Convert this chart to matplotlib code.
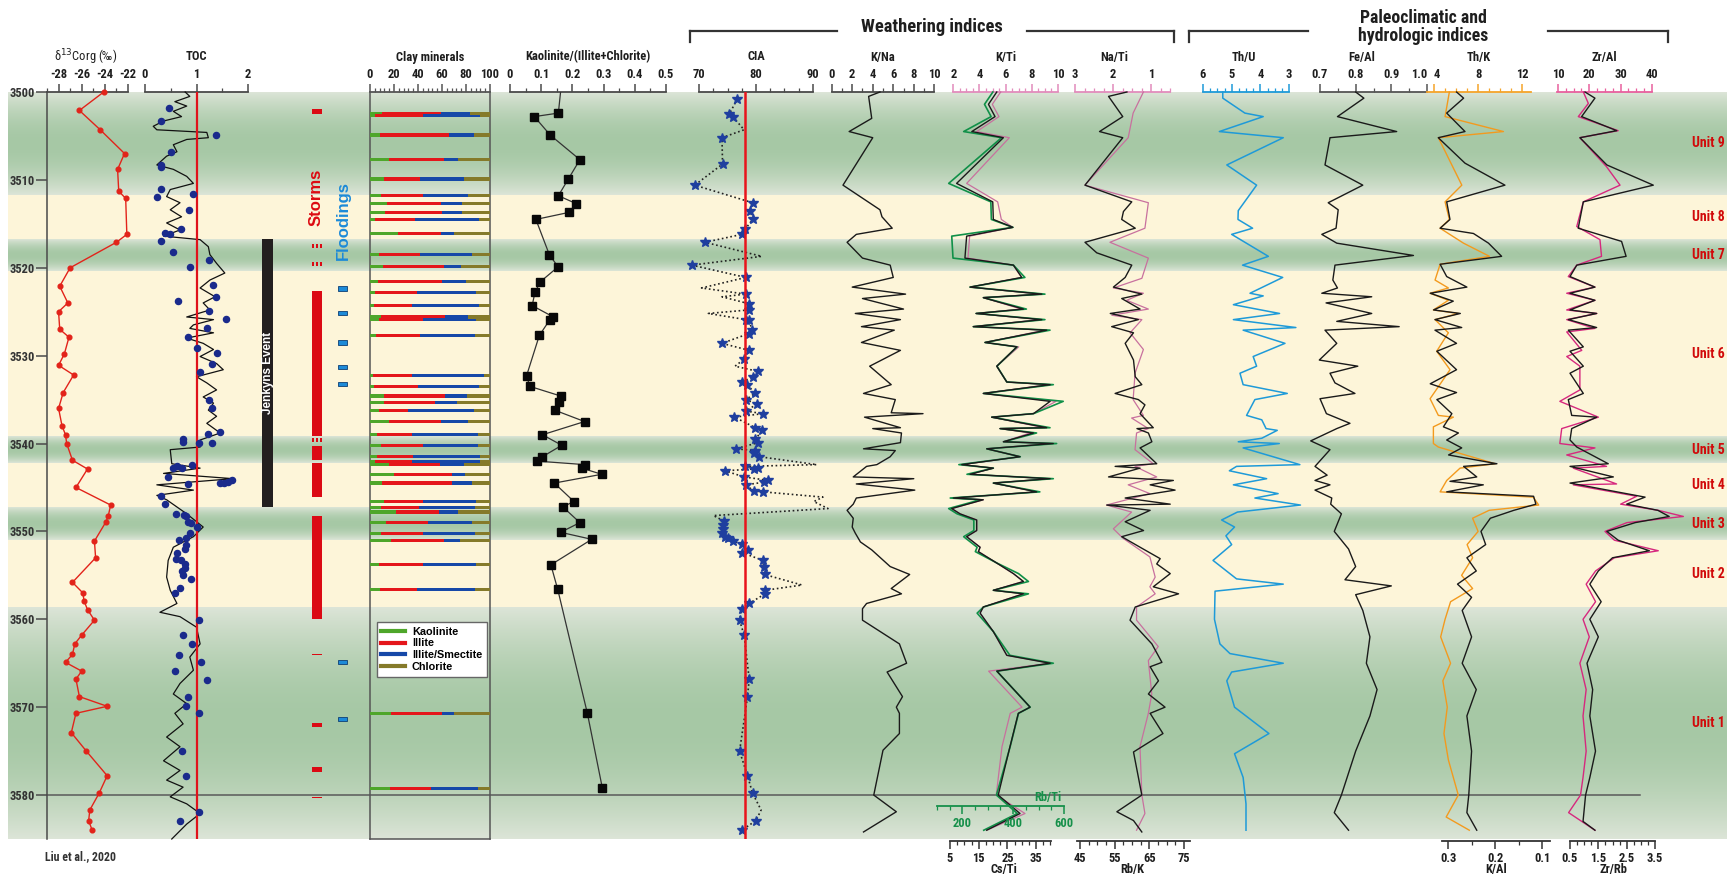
import numpy as np
import matplotlib
matplotlib.use('Agg')
import matplotlib.pyplot as plt
from matplotlib import font_manager as fm
from matplotlib.lines import Line2D
from matplotlib.colors import to_rgb

# ---------------- data ----------------
unit_bounds = [3500, 3511.7, 3516.8, 3520.4, 3539.2, 3542.2, 3547.3, 3551.0, 3558.7, 3585]
unit_names = [9, 8, 7, 6, 5, 4, 3, 2, 1]

d13c_depth = [3500.0, 3502.1, 3504.3, 3507.0, 3508.8, 3511.3, 3512.1, 3516.2, 3517.1, 3520.0, 3522.1, 3524.0,
              3525.0, 3527.0, 3527.9, 3529.8, 3531.1, 3532.2, 3534.2, 3536.0, 3538.0, 3539.0, 3540.0, 3541.9,
              3542.9, 3545.0, 3547.0, 3548.2, 3548.9, 3551.1, 3553.0, 3555.8, 3557.0, 3557.9, 3558.9, 3560.1,
              3561.8, 3562.8, 3564.0, 3564.9, 3565.9, 3566.8, 3568.8, 3569.9, 3570.7, 3572.9, 3575.0, 3577.8,
              3579.8, 3581.7, 3582.9, 3584.0]
d13c_value = [-24.1, -26.2, -24.4, -22.3, -22.9, -22.8, -22.2, -22.1, -23.0, -27.0, -27.9, -27.2,
              -28.0, -27.9, -27.1, -27.5, -28.0, -26.7, -27.6, -28.0, -27.7, -27.4, -27.3, -26.8,
              -25.5, -26.5, -23.5, -23.7, -23.9, -24.9, -24.8, -26.8, -25.9, -25.8, -25.5, -24.9,
              -26.0, -26.6, -26.8, -27.4, -26.0, -26.5, -26.2, -23.8, -26.5, -26.9, -25.6, -23.8,
              -24.5, -25.3, -25.4, -25.1]

toc_curve_depth = [3500.0, 3500.5, 3501.1, 3501.6, 3502.2, 3502.8, 3503.3, 3503.9, 3504.3, 3504.6, 3505.2, 3505.4,
                   3506.0, 3506.8, 3507.3, 3508.3, 3508.8, 3509.6, 3510.4, 3511.1, 3511.9, 3512.6, 3513.4, 3514.2,
                   3514.9, 3515.7, 3516.4, 3516.8, 3517.6, 3518.5, 3519.5, 3520.6, 3521.4, 3522.3, 3523.3, 3524.0,
                   3524.8, 3525.6, 3525.9, 3526.5, 3526.9, 3527.4, 3528.0, 3528.6, 3529.3, 3530.1, 3530.9, 3531.6,
                   3532.4, 3533.1, 3533.9, 3534.7, 3535.4, 3536.2, 3536.9, 3537.7, 3538.8, 3539.6, 3540.4, 3540.7,
                   3542.3, 3542.8, 3543.4, 3544.0, 3544.3, 3544.7, 3545.3, 3545.9, 3546.4, 3548.0, 3549.5, 3550.6,
                   3551.8, 3553.3, 3555.2, 3556.7, 3558.2, 3559.2, 3559.7, 3560.9, 3562.8, 3564.3, 3565.8, 3567.3,
                   3568.5, 3569.6, 3570.7, 3571.9, 3573.4, 3574.5, 3576.1, 3577.2, 3578.3, 3579.1, 3580.2, 3581.0,
                   3582.1, 3583.3, 3585.0]
toc_curve_value = [0.78, 0.87, 0.58, 0.81, 0.55, 0.71, 0.36, 0.16, 0.23, 1.20, 1.23, 0.81,
                   0.55, 0.62, 0.42, 0.23, 0.55, 0.81, 0.94, 0.49, 0.42, 0.68, 0.49, 0.71,
                   0.42, 0.68, 0.36, 1.07, 1.23, 1.26, 1.39, 1.55, 1.26, 1.07, 1.36, 1.13,
                   1.26, 0.81, 1.33, 0.94, 0.87, 1.33, 0.81, 1.13, 1.33, 1.07, 1.39, 1.52,
                   1.00, 1.20, 1.39, 1.13, 1.33, 1.23, 1.39, 1.20, 1.46, 1.07, 1.07, 0.49,
                   0.52, 1.07, 0.36, 1.71, 1.07, 0.23, 0.94, 0.23, 0.42, 0.81, 1.13, 0.94,
                   0.55, 0.45, 0.42, 0.49, 0.62, 0.29, 0.68, 1.00, 1.07, 0.87, 0.94, 0.68,
                   0.55, 0.81, 0.58, 0.74, 0.42, 0.68, 0.36, 0.68, 0.42, 0.74, 0.49, 0.81,
                   1.07, 0.81, 0.52]

toc_depth = [3501.8, 3503.3, 3504.9, 3506.8, 3508.3, 3508.5, 3511.0, 3511.9, 3511.6, 3513.4, 3515.6, 3516.0,
             3516.2, 3516.9, 3518.2, 3519.1, 3519.9, 3522.0, 3523.3, 3523.8, 3524.9, 3525.8, 3526.9, 3527.9,
             3529.1, 3529.7, 3530.9, 3531.9, 3535.0, 3536.0, 3538.9, 3538.7, 3539.5, 3539.8, 3539.9, 3539.9,
             3542.4, 3542.8, 3542.6, 3542.8, 3543.8, 3544.6, 3544.5, 3544.5, 3544.4, 3544.2, 3546.0, 3546.9,
             3548.0, 3548.1, 3548.2, 3548.9, 3549.0, 3549.5, 3550.2, 3550.7, 3551.0, 3551.6, 3552.0, 3552.4,
             3553.1, 3553.2, 3553.7, 3554.2, 3554.5, 3555.0, 3555.4, 3556.4, 3557.0, 3560.1, 3561.8, 3562.8,
             3564.1, 3564.9, 3565.9, 3566.9, 3568.8, 3569.9, 3570.7, 3575.0, 3577.8, 3581.9, 3582.9]
toc_value = [0.47, 0.32, 1.38, 0.50, 0.32, 0.31, 0.32, 0.23, 0.94, 0.86, 0.69, 0.38,
             0.49, 0.32, 0.54, 1.24, 0.88, 1.33, 1.38, 0.65, 1.25, 1.58, 1.21, 0.84,
             1.00, 1.40, 1.30, 1.07, 1.24, 1.31, 1.22, 1.46, 0.74, 0.74, 1.05, 1.30,
             0.91, 0.55, 0.63, 0.72, 0.44, 0.83, 1.46, 1.54, 1.61, 1.68, 0.32, 0.39,
             0.61, 0.76, 0.79, 0.84, 0.89, 1.00, 0.87, 0.80, 0.66, 0.80, 0.78, 0.62,
             0.61, 0.69, 0.77, 0.77, 0.71, 0.73, 0.89, 0.68, 0.58, 1.04, 0.74, 0.91,
             0.66, 1.08, 0.59, 1.21, 0.83, 0.79, 1.05, 0.71, 0.79, 1.04, 0.68]

storm_top = [3501.9, 3522.6, 3540.3, 3542.2, 3548.3, 3571.8, 3576.8]
storm_bot = [3502.5, 3539.1, 3541.9, 3546.1, 3560.0, 3572.3, 3577.4]
storm_thin = [3517.5, 3519.5, 3539.6]
storm_line = [3564.0, 3580.3]
flood_top = [3522.1, 3524.9, 3528.2, 3531.1, 3533.0, 3564.6, 3571.1]
flood_bot = [3522.6, 3525.4, 3528.8, 3531.5, 3533.4, 3565.1, 3571.6]
jenkyns_top, jenkyns_bot = 3516.7, 3547.2

clay_depth = [3502.4, 3502.7, 3504.9, 3507.7, 3509.9, 3511.8, 3512.7, 3513.7, 3514.5, 3516.1, 3518.5, 3519.9,
              3521.6, 3522.8, 3524.3, 3525.6, 3525.9, 3527.7, 3532.3, 3533.5, 3534.6, 3535.3, 3536.2, 3537.5,
              3539.0, 3540.2, 3541.5, 3542.0, 3542.4, 3543.5, 3544.5, 3546.6, 3547.3, 3547.8, 3549.0, 3550.2,
              3551.0, 3553.8, 3556.6, 3570.7, 3579.3]
kaolinite = [10.0, 4.0, 8.5, 15.6, 11.3, 9.3, 14.2, 12.7, 4.2, 23.5, 7.6, 10.8,
             7.0, 4.2, 3.7, 9.3, 7.6, 5.1, 2.8, 3.7, 11.3, 11.3, 7.9, 15.6,
             5.7, 9.3, 5.7, 4.2, 15.6, 19.8, 9.9, 11.3, 9.3, 22.0, 13.3, 9.3,
             17.8, 7.6, 8.5, 17.8, 16.4]
illite = [49.5, 40.0, 57.5, 46.2, 30.3, 34.7, 45.3, 47.1, 33.5, 35.5, 34.0, 51.0,
          53.0, 34.6, 31.1, 53.0, 36.4, 36.5, 32.0, 36.0, 51.0, 42.5, 24.1, 43.4,
          29.1, 35.2, 30.3, 30.6, 42.4, 48.2, 58.1, 32.7, 31.7, 35.2, 35.4, 35.2,
          44.0, 36.9, 30.3, 42.2, 34.6]
illite_smectite = [23.5, 47.5, 20.4, 11.2, 36.4, 37.6, 17.5, 16.7, 53.3, 11.0, 43.4, 14.2,
                   20.0, 49.9, 55.9, 19.3, 44.7, 46.2, 60.2, 51.0, 18.4, 18.4, 55.0, 22.3,
                   55.0, 45.3, 55.5, 56.7, 20.0, 11.3, 17.0, 44.7, 46.8, 15.8, 36.3, 43.3,
                   13.2, 44.2, 49.0, 10.0, 38.8]
chlorite = [17.0, 8.5, 13.6, 27.0, 22.0, 18.4, 23.0, 23.5, 9.0, 30.0, 15.0, 24.0,
            20.0, 11.3, 9.3, 18.4, 11.3, 12.2, 5.0, 9.3, 19.3, 27.8, 13.0, 18.7,
            10.2, 10.2, 8.5, 8.5, 22.0, 20.7, 15.0, 11.3, 12.2, 27.0, 15.0, 12.2,
            25.0, 11.3, 12.2, 30.0, 10.2]

kic_depth = [3499.0, 3502.4, 3502.8, 3504.9, 3507.7, 3509.9, 3511.8, 3512.7, 3513.7, 3514.5, 3518.5, 3519.9,
             3521.6, 3522.8, 3524.3, 3525.6, 3525.9, 3527.7, 3532.3, 3533.5, 3534.6, 3535.3, 3536.2, 3537.5,
             3539.0, 3540.2, 3541.5, 3542.0, 3542.4, 3542.8, 3543.5, 3544.5, 3546.6, 3547.2, 3549.0, 3550.1,
             3550.9, 3553.8, 3556.6, 3570.7, 3579.2]
kic_value = [0.165, 0.155, 0.078, 0.129, 0.224, 0.187, 0.155, 0.212, 0.189, 0.083, 0.126, 0.154,
             0.097, 0.080, 0.071, 0.139, 0.128, 0.094, 0.053, 0.064, 0.163, 0.157, 0.143, 0.239,
             0.104, 0.166, 0.104, 0.086, 0.240, 0.230, 0.294, 0.142, 0.205, 0.169, 0.224, 0.162,
             0.262, 0.131, 0.153, 0.248, 0.296]

cia_depth = [3500.8, 3502.5, 3502.8, 3504.3, 3505.2, 3508.2, 3510.6, 3512.6, 3513.5, 3514.5, 3515.6, 3516.2,
             3517.1, 3518.7, 3519.7, 3521.1, 3522.3, 3523.0, 3523.3, 3524.1, 3524.8, 3525.2, 3525.9, 3526.0,
             3527.1, 3527.5, 3528.6, 3529.4, 3530.4, 3531.2, 3531.8, 3532.4, 3533.0, 3533.3, 3534.3, 3535.0,
             3535.5, 3536.3, 3536.6, 3537.0, 3538.2, 3538.5, 3539.5, 3539.9, 3540.6, 3540.8, 3541.1, 3541.5,
             3542.4, 3542.6, 3542.8, 3542.9, 3543.1, 3543.8, 3544.2, 3544.4, 3544.7, 3545.4, 3545.5, 3546.1,
             3546.6, 3547.4, 3548.2, 3548.8, 3549.3, 3549.7, 3550.2, 3550.6, 3550.8, 3551.1, 3551.4, 3552.1,
             3552.4, 3553.3, 3554.1, 3554.9, 3556.1, 3556.7, 3557.1, 3558.2, 3558.8, 3560.1, 3561.8, 3566.8,
             3568.8, 3571.5, 3575.0, 3577.8, 3579.8, 3581.7, 3582.9, 3584.0]
cia_value = [76.7, 75.3, 75.9, 77.9, 74.0, 74.1, 69.2, 79.4, 79.0, 79.4, 78.1, 77.5,
             71.0, 81.0, 68.7, 78.2, 70.4, 78.2, 74.0, 78.8, 78.7, 71.6, 78.2, 78.8,
             79.3, 78.7, 74.0, 78.8, 77.9, 76.3, 80.4, 79.5, 77.5, 78.5, 79.8, 78.2,
             80.2, 78.2, 81.2, 76.2, 79.9, 81.1, 79.9, 80.4, 76.4, 79.9, 79.6, 80.6,
             90.7, 78.1, 80.4, 79.6, 74.5, 77.9, 82.2, 81.4, 78.2, 79.6, 81.3, 91.8,
             90.2, 92.7, 72.5, 74.3, 74.2, 74.1, 74.0, 74.5, 75.1, 75.9, 77.5, 78.6,
             77.5, 81.2, 81.4, 81.5, 88.1, 81.6, 81.6, 78.8, 77.5, 77.1, 77.9, 78.8,
             78.5, 77.9, 77.1, 78.5, 79.4, 80.9, 80.0, 77.5]
cia_sampled = [1, 1, 1, 0, 1, 1, 1, 1, 1, 1, 1, 1,
               1, 0, 1, 1, 0, 1, 0, 1, 1, 0, 1, 1,
               1, 1, 1, 1, 1, 0, 1, 1, 1, 1, 1, 1,
               1, 1, 1, 1, 1, 1, 1, 1, 1, 1, 1, 1,
               0, 1, 1, 1, 1, 1, 1, 1, 1, 1, 1, 0,
               0, 0, 0, 1, 1, 1, 1, 1, 1, 1, 1, 1,
               1, 1, 1, 1, 0, 1, 1, 1, 1, 1, 1, 1,
               1, 0, 1, 1, 1, 0, 1, 1]

kna_depth = [3500.0, 3500.5, 3503.0, 3504.5, 3505.2, 3510.6, 3513.4, 3514.2, 3515.5, 3516.2, 3517.1, 3518.9,
             3519.7, 3521.1, 3522.2, 3523.0, 3523.5, 3524.7, 3525.2, 3525.9, 3526.7, 3527.1, 3528.5, 3529.4,
             3531.2, 3532.4, 3533.3, 3534.3, 3535.0, 3536.5, 3536.6, 3537.0, 3538.2, 3538.3, 3538.8, 3539.9,
             3540.6, 3540.8, 3541.5, 3542.4, 3542.6, 3543.8, 3544.0, 3544.6, 3545.3, 3546.2, 3546.9, 3547.6,
             3548.5, 3549.5, 3550.2, 3551.2, 3552.1, 3554.0, 3554.9, 3556.5, 3557.1, 3558.2, 3558.8, 3560.1,
             3562.8, 3565.0, 3566.0, 3568.8, 3570.0, 3570.7, 3573.0, 3574.9, 3580.0, 3581.9, 3584.2]
kna_value = [4.7, 3.6, 3.9, 1.7, 4.0, 1.1, 4.7, 4.9, 5.9, 2.4, 1.5, 3.0,
             5.7, 6.0, 2.0, 7.2, 3.0, 7.0, 2.3, 6.7, 2.9, 6.1, 2.9, 6.7,
             3.7, 4.9, 5.8, 3.1, 6.2, 5.8, 8.9, 3.2, 6.7, 4.0, 6.8, 6.7,
             3.1, 6.2, 5.7, 4.4, 3.4, 2.1, 8.0, 2.4, 8.1, 2.4, 2.1, 1.5,
             2.1, 2.0, 2.3, 2.8, 3.9, 5.7, 7.6, 5.8, 6.8, 3.4, 3.0, 3.0,
             6.6, 7.3, 5.4, 6.9, 6.3, 6.6, 6.6, 5.0, 4.1, 6.3, 3.1]

ti_depth = [3500.0, 3501.4, 3502.8, 3504.5, 3505.2, 3510.4, 3512.5, 3514.5, 3515.4, 3516.4, 3518.9, 3519.7,
            3521.1, 3522.2, 3523.0, 3523.4, 3524.7, 3525.2, 3525.9, 3526.7, 3527.1, 3528.5, 3529.0, 3531.2,
            3533.0, 3533.3, 3534.3, 3535.2, 3536.6, 3537.0, 3538.2, 3538.3, 3538.8, 3539.8, 3540.0, 3540.6,
            3541.5, 3542.4, 3542.8, 3543.5, 3544.0, 3544.5, 3545.5, 3546.2, 3546.4, 3547.4, 3548.0, 3548.7,
            3549.9, 3550.6, 3551.8, 3552.3, 3553.6, 3554.8, 3555.7, 3556.7, 3557.1, 3558.6, 3559.3, 3561.4,
            3564.1, 3565.0, 3565.9, 3570.0, 3570.7, 3574.5, 3580.0, 3582.1, 3584.0]
kti_value = [5.62, 4.98, 5.49, 3.79, 6.28, 3.02, 5.39, 5.67, 6.54, 3.25, 3.12, 6.58,
             7.23, 3.28, 8.60, 4.29, 7.19, 3.73, 8.60, 3.53, 8.98, 4.42, 7.00, 5.32,
             6.08, 9.23, 4.29, 9.85, 8.11, 4.93, 8.98, 5.57, 7.86, 5.82, 9.39, 4.55,
             7.10, 2.64, 5.06, 3.28, 9.23, 5.06, 8.37, 2.00, 4.29, 1.88, 2.51, 3.79,
             3.79, 3.02, 4.04, 3.91, 5.32, 6.58, 7.35, 5.06, 7.35, 4.29, 4.04, 5.06,
             6.08, 9.39, 4.70, 7.25, 6.35, 5.72, 5.28, 7.48, 4.55]
csti_value = [21.3, 18.4, 20.7, 12.6, 23.6, 7.3, 19.9, 20.1, 26.9, 10.8, 10.2, 27.1,
              30.0, 12.0, 37.0, 16.6, 30.6, 14.1, 37.0, 13.1, 38.7, 17.2, 28.3, 21.3,
              24.8, 39.9, 16.6, 39.9, 34.1, 19.5, 38.7, 22.4, 34.1, 23.6, 41.0, 17.8,
              29.4, 9.1, 20.1, 12.0, 39.9, 20.1, 35.2, 6.2, 16.6, 5.6, 8.5, 14.3,
              14.3, 10.8, 15.5, 14.9, 21.3, 27.1, 30.6, 20.1, 30.6, 16.6, 15.5, 20.1,
              24.8, 39.9, 21.3, 32.9, 28.8, 25.9, 21.8, 29.4, 17.8]
rbti_value = [320, 287, 313, 205, 354, 146, 312, 314, 399, 158, 163, 401,
              446, 230, 525, 283, 452, 254, 525, 243, 545, 289, 415, 336,
              375, 558, 283, 597, 480, 316, 545, 349, 492, 362, 571, 296,
              428, 186, 322, 218, 558, 322, 505, 152, 271, 146, 179, 245,
              245, 205, 258, 251, 336, 421, 460, 322, 460, 283, 258, 322,
              387, 558, 336, 467, 421, 388, 334, 416, 284]

rbk_depth = [3500.0, 3500.5, 3502.8, 3504.5, 3505.2, 3510.6, 3512.5, 3513.6, 3514.5, 3515.5, 3517.1, 3518.3,
             3519.7, 3521.1, 3522.2, 3523.0, 3523.5, 3524.7, 3525.2, 3525.9, 3526.7, 3527.4, 3528.6, 3530.5,
             3532.4, 3533.3, 3534.3, 3535.0, 3535.6, 3536.6, 3538.2, 3538.3, 3538.8, 3539.8, 3540.5, 3542.3,
             3542.6, 3542.8, 3543.8, 3544.2, 3544.7, 3545.3, 3546.2, 3546.9, 3547.0, 3547.6, 3548.9, 3549.9,
             3550.6, 3551.8, 3553.1, 3553.7, 3554.8, 3556.3, 3557.1, 3558.6, 3560.1, 3562.8, 3564.9, 3565.4,
             3567.0, 3568.5, 3570.0, 3570.7, 3573.0, 3575.1, 3580.0, 3581.9, 3582.9, 3584.2]
rbk_value = [58.5, 53.2, 57.3, 50.6, 57.3, 46.4, 59.9, 57.5, 57.0, 60.9, 46.4, 49.8,
             59.9, 58.0, 54.6, 62.8, 57.0, 62.3, 53.7, 61.8, 54.1, 60.4, 58.0, 60.4,
             60.9, 62.8, 55.1, 61.8, 63.7, 62.3, 66.1, 61.4, 64.7, 65.7, 62.3, 67.1,
             55.1, 62.3, 53.2, 71.9, 65.2, 72.4, 58.0, 71.0, 52.7, 65.2, 58.0, 63.3,
             57.0, 62.3, 68.1, 67.1, 71.0, 66.1, 73.4, 60.9, 59.4, 65.7, 68.6, 65.2,
             67.6, 64.7, 69.5, 65.2, 68.9, 60.4, 62.8, 55.6, 60.4, 62.8]

nati_depth = [3500.0, 3502.4, 3505.2, 3510.6, 3512.6, 3515.5, 3517.1, 3518.9, 3521.2, 3522.3, 3522.9, 3523.7,
              3524.7, 3525.4, 3525.9, 3527.4, 3529.3, 3532.0, 3535.0, 3536.8, 3537.1, 3538.3, 3538.8, 3540.7,
              3542.3, 3542.6, 3543.8, 3544.7, 3545.7, 3547.0, 3547.8, 3549.7, 3550.8, 3552.9, 3555.2, 3556.3,
              3557.1, 3558.6, 3560.1, 3563.1, 3564.7, 3568.5, 3570.7, 3574.5, 3580.0, 3582.1, 3584.0]
nati_value = [1.20, 1.47, 1.60, 2.74, 1.07, 1.16, 2.08, 1.07, 1.24, 1.99, 1.20, 1.64,
              1.07, 2.03, 1.24, 1.55, 1.20, 1.42, 1.47, 1.20, 1.51, 1.07, 1.38, 1.42,
              0.94, 1.42, 0.85, 1.60, 1.03, 2.17, 1.51, 1.99, 1.73, 1.03, 0.89, 1.03,
              0.89, 1.38, 1.38, 0.81, 1.07, 0.98, 1.07, 1.29, 1.24, 1.16, 1.38]

thu_depth = [3500.0, 3500.7, 3502.4, 3502.8, 3504.5, 3505.2, 3508.3, 3510.6, 3513.5, 3514.5, 3515.5, 3516.2,
             3518.7, 3519.7, 3521.1, 3522.9, 3523.2, 3524.2, 3525.2, 3525.9, 3526.8, 3527.1, 3528.6, 3530.1,
             3531.2, 3532.0, 3533.3, 3534.3, 3535.0, 3536.8, 3537.3, 3538.3, 3538.5, 3539.4, 3539.8, 3540.0,
             3540.5, 3542.4, 3542.6, 3543.1, 3544.0, 3544.7, 3545.7, 3546.2, 3547.0, 3547.8, 3548.7, 3549.5,
             3550.5, 3551.5, 3553.3, 3555.4, 3556.0, 3556.8, 3560.0, 3562.8, 3563.9, 3565.0, 3566.0, 3567.0,
             3570.0, 3573.0, 3575.3, 3578.0, 3581.0, 3584.0]
thu_value = [5.31, 5.31, 4.54, 3.90, 5.43, 3.20, 5.17, 4.13, 4.77, 4.78, 4.27, 5.00,
             3.72, 4.62, 3.22, 4.36, 3.90, 4.94, 3.33, 4.94, 2.76, 4.60, 3.14, 4.25,
             4.13, 4.71, 4.60, 3.06, 4.19, 4.48, 3.95, 3.80, 3.41, 3.95, 4.77, 3.34,
             4.60, 2.62, 4.83, 5.08, 3.78, 4.94, 3.38, 4.19, 2.60, 4.80, 5.35, 4.90,
             5.20, 5.00, 5.65, 4.83, 3.20, 5.58, 5.60, 5.41, 5.06, 3.20, 5.00, 5.17,
             4.90, 3.70, 4.90, 4.60, 4.50, 4.50]

feal_depth = [3500.0, 3500.7, 3502.8, 3504.5, 3505.2, 3508.3, 3510.6, 3512.6, 3513.4, 3515.5, 3516.2, 3517.2,
              3518.6, 3519.7, 3521.4, 3522.3, 3522.9, 3523.3, 3524.0, 3525.2, 3526.1, 3526.7, 3527.1, 3528.6,
              3530.5, 3531.2, 3532.0, 3533.1, 3534.3, 3534.9, 3536.6, 3537.7, 3538.3, 3539.7, 3540.7, 3542.6,
              3543.6, 3544.2, 3544.7, 3545.3, 3546.2, 3546.9, 3548.0, 3550.0, 3552.0, 3554.0, 3555.5, 3556.2,
              3557.2, 3559.0, 3562.0, 3565.0, 3568.0, 3571.0, 3575.0, 3580.0, 3582.0, 3584.0]
feal_value = [0.800, 0.823, 0.749, 0.915, 0.728, 0.714, 0.820, 0.723, 0.751, 0.745, 0.705, 0.747,
              0.962, 0.742, 0.736, 0.749, 0.705, 0.845, 0.717, 0.845, 0.747, 0.922, 0.714, 0.747,
              0.698, 0.806, 0.728, 0.742, 0.798, 0.700, 0.718, 0.784, 0.747, 0.674, 0.728, 0.686,
              0.720, 0.686, 0.728, 0.686, 0.733, 0.730, 0.760, 0.740, 0.780, 0.800, 0.770, 0.900,
              0.800, 0.820, 0.840, 0.830, 0.860, 0.840, 0.800, 0.760, 0.740, 0.780]

thk_depth = [3500.0, 3502.8, 3504.5, 3505.2, 3510.6, 3512.5, 3514.5, 3515.5, 3517.2, 3518.7, 3519.6, 3521.4,
             3522.3, 3522.9, 3523.7, 3524.8, 3525.2, 3525.9, 3527.4, 3529.5, 3531.6, 3534.9, 3536.8, 3537.0,
             3538.1, 3540.0, 3540.4, 3542.3, 3542.8, 3544.2, 3545.5, 3546.1, 3547.0, 3547.6, 3548.5, 3550.0,
             3551.5, 3553.0, 3555.0, 3556.5, 3558.0, 3560.0, 3562.0, 3565.0, 3567.0, 3570.0, 3573.0, 3576.0,
             3580.0, 3582.5, 3584.0]
thk_value = [5.39, 5.00, 10.3, 4.39, 6.52, 5.00, 5.39, 4.55, 6.67, 9.03, 4.55, 4.09,
             5.30, 3.64, 5.30, 3.94, 6.21, 4.09, 5.30, 4.24, 5.45, 3.64, 4.39, 5.75,
             3.94, 3.94, 4.39, 9.55, 6.36, 5.15, 4.55, 13.0, 13.5, 9.0, 7.5, 8.0,
             7.0, 7.5, 6.5, 7.5, 5.5, 5.0, 4.6, 5.5, 4.8, 5.2, 4.9, 5.3,
             6.2, 5.1, 7.2]

kal_depth = [3500.0, 3500.7, 3502.4, 3504.5, 3505.2, 3508.1, 3510.6, 3512.5, 3514.5, 3515.5, 3516.1, 3517.2,
             3518.7, 3519.6, 3521.0, 3522.2, 3522.9, 3523.8, 3524.8, 3525.2, 3525.9, 3526.8, 3527.1, 3528.6,
             3529.5, 3531.6, 3533.2, 3534.2, 3535.0, 3536.6, 3538.1, 3538.8, 3539.6, 3540.5, 3541.3, 3542.3,
             3542.6, 3543.8, 3544.3, 3544.7, 3545.5, 3546.0, 3546.9, 3547.6, 3548.5, 3550.0, 3551.5, 3553.0,
             3554.5, 3556.0, 3557.5, 3559.0, 3562.0, 3565.0, 3568.0, 3571.0, 3575.0, 3580.0, 3582.0, 3584.0]
kal_value = [0.282, 0.267, 0.303, 0.264, 0.321, 0.264, 0.179, 0.303, 0.296, 0.317, 0.246, 0.214,
             0.186, 0.317, 0.303, 0.260, 0.338, 0.289, 0.331, 0.274, 0.328, 0.271, 0.328, 0.282,
             0.324, 0.282, 0.338, 0.282, 0.324, 0.292, 0.310, 0.278, 0.303, 0.271, 0.299, 0.196,
             0.267, 0.239, 0.296, 0.225, 0.303, 0.118, 0.113, 0.160, 0.210, 0.230, 0.220, 0.260,
             0.240, 0.280, 0.250, 0.270, 0.250, 0.270, 0.240, 0.260, 0.250, 0.256, 0.260, 0.239]

zral_depth = [3500.0, 3501.3, 3502.8, 3504.4, 3505.2, 3508.5, 3510.6, 3512.5, 3515.3, 3516.8, 3518.7, 3519.7,
              3521.0, 3522.2, 3522.9, 3523.7, 3524.8, 3525.2, 3525.9, 3526.9, 3527.3, 3529.4, 3530.1, 3531.2,
              3533.9, 3535.2, 3537.0, 3538.3, 3540.0, 3540.5, 3541.3, 3542.6, 3542.8, 3544.6, 3544.7, 3546.0,
              3546.9, 3547.6, 3548.3, 3549.0, 3550.0, 3551.0, 3552.2, 3553.0, 3554.5, 3556.0, 3558.0, 3560.0,
              3562.0, 3565.0, 3568.0, 3571.0, 3575.0, 3578.0, 3580.0, 3582.0, 3584.0]
zral_value = [18.1, 19.7, 16.5, 29.2, 17.0, 25.5, 29.8, 18.1, 16.0, 23.4, 23.9, 16.0,
              13.3, 21.8, 12.8, 21.8, 12.8, 22.4, 12.8, 21.8, 12.8, 17.6, 12.8, 17.0,
              17.0, 10.6, 22.9, 11.2, 10.6, 21.8, 12.8, 25.5, 14.9, 28.7, 14.9, 35.1,
              30.0, 42.0, 50.0, 32.0, 25.0, 28.0, 42.0, 28.0, 22.0, 19.0, 22.0, 18.0,
              20.0, 17.0, 19.0, 18.0, 19.0, 18.0, 17.2, 13.4, 21.8]

zrrb_depth = [3500.0, 3500.7, 3502.8, 3504.4, 3505.2, 3508.3, 3510.6, 3512.5, 3514.5, 3515.5, 3517.0, 3518.7,
              3519.7, 3521.0, 3522.2, 3522.9, 3523.7, 3524.8, 3525.2, 3525.9, 3526.8, 3527.1, 3529.0, 3529.5,
              3531.2, 3532.0, 3534.3, 3535.0, 3536.8, 3537.0, 3538.3, 3539.6, 3540.4, 3542.3, 3542.6, 3543.8,
              3544.5, 3546.1, 3546.9, 3547.6, 3548.3, 3549.0, 3550.0, 3551.0, 3552.2, 3553.0, 3554.5, 3556.0,
              3558.0, 3560.0, 3562.0, 3565.0, 3568.0, 3571.0, 3575.0, 3578.0, 3580.0, 3583.0, 3584.0]
zrrb_value = [1.03, 1.38, 0.91, 2.15, 0.85, 1.80, 3.44, 0.97, 0.85, 0.79, 2.32, 2.48,
              0.74, 0.50, 1.38, 0.50, 1.38, 0.50, 1.44, 0.44, 1.44, 0.44, 0.97, 0.50,
              0.97, 0.50, 0.97, 0.44, 0.56, 1.44, 0.56, 0.50, 0.74, 1.85, 0.50, 2.03,
              0.50, 3.15, 2.50, 3.60, 4.00, 2.80, 1.80, 2.20, 3.30, 2.00, 1.50, 1.20,
              1.60, 1.20, 1.50, 1.10, 1.30, 1.20, 1.40, 1.20, 1.05, 0.96, 1.38]

# ---------------- fonts ----------------
names = {f.name for f in fm.fontManager.ttflist}
if 'Liberation Sans Narrow' in names:
    NARROW, NS = 'Liberation Sans Narrow', 1.0
elif 'Roboto Condensed' in names:
    NARROW, NS = 'Roboto Condensed', 0.95
else:
    NARROW, NS = 'Liberation Sans', 0.82
WIDE = 'Liberation Sans'
plt.rcParams['font.family'] = [NARROW, 'DejaVu Sans']

W, H = 1727, 876
TOP, BOT = 3500, 3585
Y0, Y1 = 92, 839
TXT = '#1e1e1e'

fig = plt.figure(figsize=(W / 100, H / 100), dpi=100)
fig.patch.set_facecolor('white')


def rect(x0, x1, y0=Y0, y1=Y1):
    return [x0 / W, 1 - y1 / H, (x1 - x0) / W, (y1 - y0) / H]


ov = fig.add_axes([0, 0, 1, 1], zorder=50)
ov.set_xlim(0, W)
ov.set_ylim(H, 0)
ov.axis('off')
ov.patch.set_visible(False)

# ---------------- background bands ----------------
bg = fig.add_axes(rect(8, W), zorder=0)
bg.set_xlim(8, W)
bg.set_ylim(BOT, TOP)
bg.axis('off')
edge = np.array(to_rgb('#dde5d8'))
centre = np.array(to_rgb('#a6c8a5'))
yellow = '#fdf5d9'
for i, n in enumerate(unit_names):
    d0, d1 = unit_bounds[i], unit_bounds[i + 1]
    if n % 2 == 1:
        t = np.linspace(0, 1, 300)
        w = np.sin(np.pi * t) ** 0.9
        img = edge[None, :] * (1 - w[:, None]) + centre[None, :] * w[:, None]
        bg.imshow(img[:, None, :], extent=[8, W, d1, d0], aspect='auto',
                  interpolation='bilinear', origin='upper', zorder=0)
    else:
        bg.axhspan(d0, d1, color=yellow, zorder=0, lw=0)
    bg.text(1725, (d0 + d1) / 2, f'Unit {n}', color='#d10a0a', fontweight='bold',
            fontsize=10.5 * NS, ha='right', va='center', zorder=3)
bg.set_xlim(8, W)
bg.set_ylim(BOT, TOP)
bg.plot([47, 1640], [3580, 3580], color='#5a5a5a', lw=1.1, zorder=2)


# ---------------- helpers ----------------
def panel(x0, x1, xlim, major, labels, minor, color='#4a4a4a', title=None, tcx=None,
          tweight='bold'):
    ax = fig.add_axes(rect(x0, x1), zorder=5)
    ax.set_xlim(*xlim)
    ax.set_ylim(BOT, TOP)
    ax.patch.set_visible(False)
    for s in ['left', 'right', 'bottom']:
        ax.spines[s].set_visible(False)
    ax.spines['top'].set_color(color)
    ax.spines['top'].set_linewidth(1.3)
    ax.xaxis.tick_top()
    ax.set_xticks(major)
    ax.set_xticklabels(labels)
    ax.set_xticks(minor, minor=True)
    ax.tick_params(axis='x', which='major', direction='out', length=6, width=1.1, color=color,
                   labelsize=9.5 * NS, pad=2, labelcolor=TXT)
    ax.tick_params(axis='x', which='minor', direction='out', length=3.2, width=0.9, color=color)
    ax.set_yticks([])
    for lab in ax.get_xticklabels():
        lab.set_fontweight('bold')
    if title:
        ov.text(tcx if tcx else (x0 + x1) / 2, 57, title, ha='center', va='center',
                fontsize=9.5 * NS, fontweight=tweight, color=TXT)
    return ax


def dax(x0, x1, xlim):
    ax = fig.add_axes(rect(x0, x1), zorder=6)
    ax.set_xlim(*xlim)
    ax.set_ylim(BOT, TOP)
    ax.axis('off')
    ax.patch.set_visible(False)
    return ax


def baxis(x0, x1, y, xlim, major, labels, minor, color='#333333', lcolor=TXT, name=None, nx=None,
          ny=870):
    ax = fig.add_axes([x0 / W, 1 - y / H, (x1 - x0) / W, 1e-4], zorder=7)
    ax.set_xlim(*xlim)
    ax.patch.set_visible(False)
    for s in ['left', 'right', 'top']:
        ax.spines[s].set_visible(False)
    ax.spines['bottom'].set_color(color)
    ax.spines['bottom'].set_linewidth(1.3)
    ax.set_xticks(major)
    ax.set_xticklabels(labels)
    ax.set_xticks(minor, minor=True)
    ax.tick_params(axis='x', which='major', direction='out', length=6, width=1.1, color=color,
                   labelsize=9.5 * NS, pad=2, labelcolor=lcolor)
    ax.tick_params(axis='x', which='minor', direction='out', length=3.2, width=0.9, color=color)
    ax.set_yticks([])
    for lab in ax.get_xticklabels():
        lab.set_fontweight('bold')
    if name:
        ov.text(nx if nx else (x0 + x1) / 2, ny, name, ha='center', va='center',
                fontsize=9.5 * NS, fontweight='bold', color=lcolor)
    return ax


# ---------------- delta13C ----------------
ax = panel(47, 128, (-29, -22), [-28, -26, -24, -22], ['-28', '-26', '-24', '-22'],
           np.arange(-29, -21.5, 1), title='δ$^{13}$Corg (‰)', tcx=86, tweight='normal')
ax.spines['left'].set_visible(True)
ax.spines['left'].set_color('#4a4a4a')
ax.spines['left'].set_linewidth(1.1)
ax.set_yticks(np.arange(3500, 3581, 10))
ax.set_yticklabels([str(v) for v in range(3500, 3581, 10)])
ax.tick_params(axis='y', direction='out', length=8, width=1.1, color='#4a4a4a', labelsize=9.5 * NS,
               labelcolor='#333333', pad=1)
for lab in ax.get_yticklabels():
    lab.set_fontweight('bold')
ax.plot(d13c_value, d13c_depth, color='#e2231a', lw=1.0, marker='o', ms=3.4, mec='#e2231a',
        mfc='#e2231a', clip_on=False, zorder=4)

# ---------------- TOC ----------------
ax = panel(145, 248, (0, 2), [0, 1, 2], ['0', '1', '2'], np.arange(0, 2.01, 0.5), title='TOC')
ax.plot(toc_curve_value, toc_curve_depth, color='#111111', lw=0.9, zorder=3, clip_on=False)
ax.axvline(1, color='#e0121b', lw=1.6, zorder=4)
ax.plot(toc_value, toc_depth, ls='none', marker='o', ms=4.4, color='#1a2a8c', zorder=5, clip_on=False)

# ---------------- storms / floods / Jenkyns ----------------
sc = fig.add_axes(rect(255, 355), zorder=5)
sc.set_xlim(255, 355)
sc.set_ylim(BOT, TOP)
sc.axis('off')
sc.patch.set_visible(False)
sc.bar(267.5, jenkyns_bot - jenkyns_top, bottom=jenkyns_top, width=11, color='#231f1f', zorder=3)
sc.text(267.5, 3532, 'Jenkyns Event', rotation=90, ha='center', va='center', color='white',
        fontsize=8.5, fontweight='bold', family=[WIDE, 'DejaVu Sans'], zorder=4)
for t0, t1 in zip(storm_top, storm_bot):
    sc.bar(317, t1 - t0, bottom=t0, width=10, color='#db0a14', zorder=3, lw=0)
for d in storm_thin:
    for xo in (-4, 0, 4):
        sc.bar(317 + xo, 0.45, bottom=d - 0.2, width=1.2, color='#db0a14', zorder=3, lw=0)
for d in storm_line:
    sc.bar(317, 0.15, bottom=d - 0.07, width=10, color='#db0a14', zorder=3, lw=0)
for t0, t1 in zip(flood_top, flood_bot):
    sc.bar(342, t1 - t0, bottom=t0, width=9, color='#1c8ad8', edgecolor='#0d3f73', lw=0.6, zorder=3)
sc.text(316, 3512, 'Storms', rotation=90, ha='center', va='center', color='#dd0a12',
        fontsize=12, fontweight='bold', family=[WIDE, 'DejaVu Sans'])
sc.text(343, 3514.6, 'Floodings', rotation=90, ha='center', va='center', color='#1c8ad8',
        fontsize=12, fontweight='bold', family=[WIDE, 'DejaVu Sans'])

# ---------------- clay minerals ----------------
ax = panel(370, 490, (0, 100), [0, 20, 40, 60, 80, 100], ['0', '20', '40', '60', '80', '100'],
           np.arange(0, 101, 4), color='#555555', title='Clay minerals')
for s in ['left', 'right', 'bottom']:
    ax.spines[s].set_visible(True)
    ax.spines[s].set_color('#555555')
    ax.spines[s].set_linewidth(1.1)
ck, ci, cis, cch = '#4ea62a', '#e4161b', '#1648a8', '#857a2a'
kao = np.array(kaolinite)
ill = np.array(illite)
ism = np.array(illite_smectite)
chl = np.array(chlorite)
bh = 0.36
ax.barh(clay_depth, kao, height=bh, color=ck, lw=0, zorder=3)
ax.barh(clay_depth, ill, left=kao, height=bh, color=ci, lw=0, zorder=3)
ax.barh(clay_depth, ism, left=kao + ill, height=bh, color=cis, lw=0, zorder=3)
ax.barh(clay_depth, chl, left=kao + ill + ism, height=bh, color=cch, lw=0, zorder=3)
handles = [Line2D([0], [0], color=c, lw=3) for c in (ck, ci, cis, cch)]
leg = ax.legend(handles, ['Kaolinite', 'Illite', 'Illite/Smectite', 'Chlorite'], loc='upper left',
                bbox_to_anchor=(0.055, 0.2905), borderaxespad=0, handlelength=2.2, handletextpad=0.6,
                labelspacing=0.15, borderpad=0.45, fancybox=False, framealpha=1, edgecolor='#666666',
                prop={'family': [WIDE, 'DejaVu Sans'], 'weight': 'bold', 'size': 7.8})
leg.get_frame().set_linewidth(1.0)
leg.set_zorder(10)

# ---------------- Kaolinite/(Illite+Chlorite) ----------------
ax = panel(510, 666, (0, 0.5), [0, 0.1, 0.2, 0.3, 0.4, 0.5], ['0', '0.1', '0.2', '0.3', '0.4', '0.5'],
           np.arange(0, 0.501, 0.05), title='Kaolinite/(Illite+Chlorite)')
ax.plot(kic_value, kic_depth, color='#333333', lw=0.9, zorder=3)
ax.plot(kic_value, kic_depth, ls='none', marker='s', ms=5.6, color='#080808', zorder=4)

# ---------------- CIA ----------------
ax = panel(699.3, 812.7, (70, 90), [70, 80, 90], ['70', '80', '90'], np.arange(70, 90.1, 2.5),
           title='CIA')
ax.plot(cia_value, cia_depth, color='#222222', lw=1.2, ls=(0, (1, 1.6)), zorder=3, clip_on=False)
cv = [v for v, s in zip(cia_value, cia_sampled) if s]
cd = [d for d, s in zip(cia_depth, cia_sampled) if s]
ax.plot(cv, cd, ls='none', marker='*', ms=7.0, color='#1f3f9f', zorder=4, clip_on=False)
ax.axvline(78, color='#e8141c', lw=1.8, zorder=5)

# ---------------- K/Na ----------------
ax = panel(831.7, 934.3, (0, 10), [0, 2, 4, 6, 8, 10], ['0', '2', '4', '6', '8', '10'],
           np.arange(0, 10.1, 1), title='K/Na')
ax.plot(kna_value, kna_depth, color='#1a1a1a', lw=1.0, zorder=3, clip_on=False)

# ---------------- K/Ti, Cs/Ti, Rb/Ti ----------------
PINK = '#e28cbc'
ax = panel(953.3, 1058, (2, 10), [2, 4, 6, 8, 10], ['2', '4', '6', '8', '10'], np.arange(2, 10.1, 0.5),
           color=PINK, title='K/Ti')
a_rb = dax(937, 1064, (100, 600))
a_rb.plot(rbti_value, ti_depth, color='#109048', lw=1.2, zorder=3, clip_on=False)
a_cs = dax(950, 1051, (5, 40.2))
a_cs.plot(csti_value, ti_depth, color='#1a1a1a', lw=1.0, zorder=4, clip_on=False)
ax.plot(kti_value, ti_depth, color='#c8709e', lw=0.9, zorder=5, clip_on=False)
baxis(950, 1051, 841, (5, 40.2), [5, 15, 25, 35], ['5', '15', '25', '35'], np.arange(5, 40.1, 2.5),
      name='Cs/Ti', nx=1004)
baxis(937, 1064, 806, (100, 600), [200, 400, 600], ['200', '400', '600'], np.arange(100, 601, 50),
      color='#16904a', lcolor='#16904a')
ov.text(1048, 797, 'Rb/Ti', ha='center', va='center', fontsize=9.5 * NS, fontweight='bold',
        color='#16904a')

# ---------------- Na/Ti, Rb/K ----------------
ax = panel(1075, 1170, (3, 0.5), [3, 2, 1], ['3', '2', '1'], np.arange(0.5, 3.01, 0.25),
           color=PINK, title='Na/Ti', tcx=1114)
a_rbk = dax(1077, 1190, (44.1, 76.7))
a_rbk.plot(rbk_value, rbk_depth, color='#1a1a1a', lw=1.0, zorder=3, clip_on=False)
ax.plot(nati_value, nati_depth, color='#c8709e', lw=0.9, zorder=4, clip_on=False)
baxis(1077, 1190, 841, (44.1, 76.7), [45, 55, 65, 75], ['45', '55', '65', '75'],
      np.arange(45, 76, 2.5), name='Rb/K', nx=1132)

# ---------------- Th/U ----------------
BLUE = '#1e9ad8'
ax = panel(1203, 1289, (6, 3), [6, 5, 4, 3], ['6', '5', '4', '3'], np.arange(3, 6.01, 0.25),
           color=BLUE, title='Th/U', tcx=1244)
ax.plot(thu_value, thu_depth, color=BLUE, lw=1.1, zorder=3, clip_on=False)

# ---------------- Fe/Al ----------------
ax = panel(1320, 1427, (0.7, 1.0), [0.7, 0.8, 0.9, 1.0], ['0.7', '0.8', '0.9', '1.0'],
           np.arange(0.7, 1.001, 0.05), color='#555555', title='Fe/Al', tcx=1362)
ax.get_xticklabels()[-1].set_horizontalalignment('right')
ax.plot(feal_value, feal_depth, color='#1a1a1a', lw=1.0, zorder=3, clip_on=False)

# ---------------- Th/K, K/Al ----------------
ORANGE = '#f5a42a'
ax = panel(1427, 1531, (3.36, 12.8), [4, 8, 12], ['4', '8', '12'], np.arange(4, 12.1, 1),
           color=ORANGE, title='Th/K', tcx=1479)
ax.get_xticklabels()[0].set_horizontalalignment('left')
ax.plot(thk_value, thk_depth, color='#f39a1e', lw=1.0, zorder=3, clip_on=False)
a_kal = dax(1442, 1550, (0.313, 0.083))
a_kal.plot(kal_value, kal_depth, color='#1a1a1a', lw=1.0, zorder=4, clip_on=False)
baxis(1442, 1550, 841, (0.313, 0.083), [0.3, 0.2, 0.1], ['0.3', '0.2', '0.1'],
      np.arange(0.1, 0.31, 0.05), name='K/Al', nx=1496)

# ---------------- Zr/Al, Zr/Rb ----------------
ZPINK = '#e8609e'
ax = panel(1557, 1652, (9.7, 40), [10, 20, 30, 40], ['10', '20', '30', '40'], np.arange(10, 40.1, 2.5),
           color=ZPINK, title='Zr/Al', tcx=1604)
a_zr = dax(1570, 1655, (0.5, 3.5))
a_zr.plot(zrrb_value, zrrb_depth, color='#1a1a1a', lw=1.0, zorder=3, clip_on=False)
ax.plot(zral_value, zral_depth, color='#d6287e', lw=1.0, zorder=4, clip_on=False)
baxis(1570, 1655, 841, (0.5, 3.5), [0.5, 1.5, 2.5, 3.5], ['0.5', '1.5', '2.5', '3.5'],
      np.arange(0.5, 3.51, 0.25), name='Zr/Rb', nx=1613)

# ---------------- group brackets & captions ----------------
BC = '#333333'
for xs in ([690, 837], [1027, 1174], [1189, 1308], [1548, 1668]):
    ov.plot(xs, [31, 31], color=BC, lw=1.6)
for x in (690, 1174, 1189, 1668):
    ov.plot([x, x], [31, 42], color=BC, lw=1.6)
ov.text(932, 27, 'Weathering indices', ha='center', va='center', fontsize=14 * NS,
        fontweight='bold', color=TXT)
ov.text(1423, 27, 'Paleoclimatic and\nhydrologic indices', ha='center', va='center',
        fontsize=13.5 * NS, fontweight='bold', color=TXT, linespacing=1.05)
ov.text(45, 857, 'Liu et al., 2020', ha='left', va='center', fontsize=9 * NS, fontweight='bold',
        color='#333333')

fig.savefig('out.png', dpi=100, facecolor='white')
